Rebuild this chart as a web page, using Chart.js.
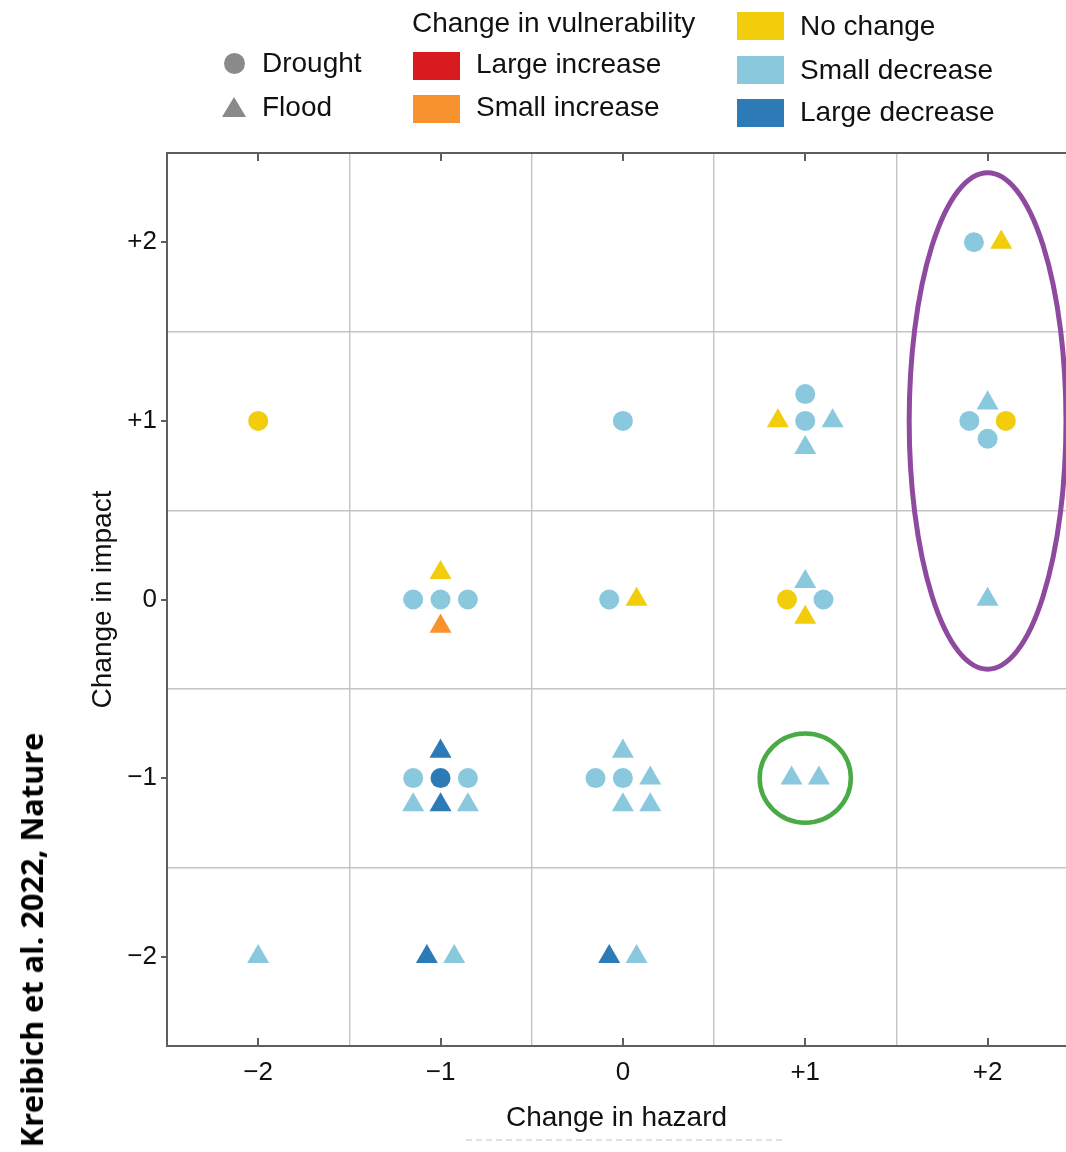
<!DOCTYPE html>
<html>
<head>
<meta charset="utf-8">
<title>Change in hazard vs change in impact</title>
<script src="https://cdn.jsdelivr.net/npm/chart.js@4.4.0/dist/chart.umd.min.js"></script>
<style>
  html, body { margin: 0; padding: 0; background: #fff; overflow: hidden; }
  body { width: 1066px; height: 1152px; position: relative; font-family: "Liberation Sans", Arial, sans-serif; color: #111; }
  #chart { position: absolute; left: 0; top: 0; }
  .lg-text { position: absolute; font-size: 28px; line-height: 32px; white-space: nowrap; }
  .swatch { position: absolute; width: 47px; height: 28px; }
  .mk-circle { position: absolute; width: 21px; height: 21px; border-radius: 50%; background: #8a8a8a; }
  .mk-tri { position: absolute; width: 24px; height: 20px; background: #8a8a8a; clip-path: polygon(50% 0, 100% 100%, 0 100%); }
  #credit { position: absolute; left: 31px; top: 940px; font-family: "Open Sans", sans-serif; font-weight: 700;
            font-size: 31px; line-height: 36px; white-space: nowrap; color: #000;
            transform: translate(-50%, -50%) rotate(-90deg); }
  #ghost { position: absolute; left: 466px; top: 1139px; width: 316px; border-top: 2px dashed #e2e2e2; }
</style>
</head>
<body>
<canvas id="chart" width="1066" height="1152"></canvas>
<div id="legend"></div>
<div id="credit">Kreibich et al. 2022, Nature</div>
<div id="ghost"></div>
<script>
// --- Data ---
const X_TICKS = [-2, -1, 0, 1, 2];
const X_TICK_LABELS = ["\u22122", "\u22121", "0", "+1", "+2"];
const Y_TICKS = [-2, -1, 0, 1, 2];
const Y_TICK_LABELS = ["\u22122", "\u22121", "0", "+1", "+2"];

const HAZARD_TYPES = ["Drought", "Flood"];
const VULN_CLASSES = ["Large increase", "Small increase", "No change", "Small decrease", "Large decrease"];
const VULN_COLORS = ["#d81b1f", "#f7922e", "#f1cd0c", "#8ac8de", "#2c7ab6"];

// each case: [change in hazard, change in impact, jitter x, jitter y]
const droughtNoChange = [[-2, 1, 0, 0], [1, 0, -0.1, 0], [2, 1, 0.1, 0]];
const droughtSmallDecrease = [
  [0, 1, 0, 0], [1, 1, 0, 0.15], [1, 1, 0, 0],
  [-1, 0, -0.15, 0], [-1, 0, 0, 0], [-1, 0, 0.15, 0],
  [0, 0, -0.075, 0], [1, 0, 0.1, 0],
  [2, 2, -0.075, 0], [2, 1, -0.1, 0], [2, 1, 0, -0.1],
  [-1, -1, -0.15, 0], [-1, -1, 0.15, 0], [0, -1, -0.15, 0], [0, -1, 0, 0],
];
const droughtLargeDecrease = [[-1, -1, 0, 0]];

const floodSmallIncrease = [[-1, 0, 0, -0.15]];
const floodNoChange = [[1, 1, -0.15, 0], [-1, 0, 0, 0.15], [0, 0, 0.075, 0], [1, 0, 0, -0.1], [2, 2, 0.075, 0]];
const floodSmallDecrease = [
  [1, 1, 0.15, 0], [1, 1, 0, -0.15], [1, 0, 0, 0.1], [2, 1, 0, 0.1], [2, 0, 0, 0],
  [-1, -1, -0.15, -0.15], [-1, -1, 0.15, -0.15],
  [0, -1, 0, 0.15], [0, -1, 0.15, 0], [0, -1, 0, -0.15], [0, -1, 0.15, -0.15],
  [1, -1, -0.075, 0], [1, -1, 0.075, 0],
  [-2, -2, 0, 0], [-1, -2, 0.075, 0], [0, -2, 0.075, 0],
];
const floodLargeDecrease = [[-1, -1, 0, 0.15], [-1, -1, 0, -0.15], [-1, -2, -0.075, 0], [0, -2, -0.075, 0]];

const GROUPS = [
  ["Drought", "No change", droughtNoChange],
  ["Drought", "Small decrease", droughtSmallDecrease],
  ["Drought", "Large decrease", droughtLargeDecrease],
  ["Flood", "Small increase", floodSmallIncrease],
  ["Flood", "No change", floodNoChange],
  ["Flood", "Small decrease", floodSmallDecrease],
  ["Flood", "Large decrease", floodLargeDecrease],
];

// highlighted regions (data units)
const HIGHLIGHT_CENTERS = [[2, 1], [1, -1]];
const HIGHLIGHT_RADII = [[0.43, 1.39], [0.25, 0.25]];

// --- Legend (HTML) ---
function addEl(cls, left, top, text, bg) {
  const el = document.createElement("div");
  el.className = cls;
  el.style.left = left + "px";
  el.style.top = top + "px";
  if (text) el.textContent = text;
  if (bg) el.style.background = bg;
  document.getElementById("legend").appendChild(el);
  return el;
}

addEl("mk-circle", 224, 53);
addEl("lg-text", 262, 47, HAZARD_TYPES[0]);
addEl("mk-tri", 222, 97);
addEl("lg-text", 262, 91, HAZARD_TYPES[1]);
addEl("lg-text", 412, 7, "Change in vulnerability");

const legendSlots = [[413, 52, 476, 48], [413, 95, 476, 91], [737, 12, 800, 10], [737, 56, 800, 54], [737, 99, 800, 96]];
VULN_CLASSES.forEach((name, i) => {
  const [sx, sy, tx, ty] = legendSlots[i];
  addEl("swatch", sx, sy, null, VULN_COLORS[i]);
  addEl("lg-text", tx, ty, name);
});

// --- Chart ---
const FONT = '"Liberation Sans", Arial, sans-serif';
Chart.defaults.font.family = FONT;

const datasets = GROUPS.map(([type, vuln, rows]) => {
  const color = VULN_COLORS[VULN_CLASSES.indexOf(vuln)];
  return {
    label: type + " / " + vuln,
    data: rows.map(([h, imp, jx, jy]) => ({ x: h + jx, y: imp + jy })),
    pointStyle: type === "Drought" ? "circle" : "triangle",
    pointRadius: type === "Drought" ? 10 : 12.7,
    backgroundColor: color,
    borderWidth: 0,
  };
});

const framePlugin = {
  id: "frame",
  afterDatasetsDraw(chart, args, opts) {
    const { ctx, chartArea: a, scales: { x, y } } = chart;

    ctx.save();
    ctx.beginPath();
    ctx.rect(a.left, a.top, a.right - a.left, a.bottom - a.top);
    ctx.clip();
    HIGHLIGHT_CENTERS.forEach(([cx, cy], i) => {
      const [rx, ry] = HIGHLIGHT_RADII[i];
      const px = x.getPixelForValue(cx);
      const py = y.getPixelForValue(cy);
      ctx.beginPath();
      ctx.ellipse(px, py,
        Math.abs(x.getPixelForValue(cx + rx) - px),
        Math.abs(y.getPixelForValue(cy + ry) - py), 0, 0, Math.PI * 2);
      ctx.lineWidth = opts.ringWidths[i];
      ctx.strokeStyle = opts.ringColors[i];
      ctx.stroke();
    });
    ctx.restore();

    ctx.save();
    ctx.strokeStyle = opts.frameColor;
    ctx.lineWidth = 2;
    ctx.beginPath();
    ctx.moveTo(a.left - 1, a.top);
    ctx.lineTo(a.right, a.top);
    x.ticks.forEach(t => {
      const px = Math.round(x.getPixelForValue(t.value));
      ctx.moveTo(px, a.bottom);
      ctx.lineTo(px, a.bottom - 8);
      ctx.moveTo(px, a.top);
      ctx.lineTo(px, a.top + 8);
    });
    y.ticks.forEach(t => {
      const py = Math.round(y.getPixelForValue(t.value));
      ctx.moveTo(a.left, py);
      ctx.lineTo(a.left - 6, py);
    });
    ctx.stroke();
    ctx.restore();
  },
};

const axisTitleFont = { size: 28, family: FONT };
const tickFont = { size: 26, family: FONT };

new Chart(document.getElementById("chart"), {
  type: "scatter",
  data: { datasets },
  options: {
    responsive: false,
    animation: false,
    layout: { autoPadding: false, padding: { top: 153, right: 0, bottom: 0, left: 0 } },
    plugins: {
      legend: { display: false },
      tooltip: { enabled: false },
      frame: {
        frameColor: "#5e5e5e",
        ringColors: ["#8e4a9e", "#4aaa45"],
        ringWidths: [5, 4.5],
      },
    },
    scales: {
      x: {
        type: "linear",
        min: -2.5,
        max: 2.43,
        afterBuildTicks: s => { s.ticks = X_TICKS.map(v => ({ value: v })); },
        afterFit: s => { s.height = 106; s.paddingLeft = 0; s.paddingRight = 0; },
        grid: { offset: true, color: "#c4c4c4", lineWidth: 1.4, drawTicks: false },
        border: { display: true, color: "#5e5e5e", width: 2 },
        ticks: {
          autoSkip: false, maxRotation: 0, padding: 11, color: "#111", font: tickFont,
          callback: (v, i) => X_TICK_LABELS[i],
        },
        title: { display: true, text: "Change in hazard", color: "#111", font: axisTitleFont, padding: { bottom: 17 } },
      },
      y: {
        type: "linear",
        min: -2.5,
        max: 2.5,
        afterBuildTicks: s => { s.ticks = Y_TICKS.map(v => ({ value: v })); },
        afterFit: s => { s.width = 167; s.paddingTop = 0; s.paddingBottom = 0; },
        grid: { offset: true, color: "#c4c4c4", lineWidth: 1.4, drawTicks: false },
        border: { display: true, color: "#5e5e5e", width: 2 },
        ticks: {
          autoSkip: false, padding: 10, color: "#111", font: tickFont,
          callback: (v, i) => Y_TICK_LABELS[i],
        },
        title: { display: true, text: "Change in impact", color: "#111", font: axisTitleFont, padding: { top: 86 } },
      },
    },
  },
  plugins: [framePlugin],
});

// --- Side credit, stretched to its printed length ---
function fitCredit() {
  const credit = document.getElementById("credit");
  const s = 415 / credit.offsetWidth;
  credit.style.transform = `translate(-50%, -50%) rotate(-90deg) scaleX(${s})`;
}
fitCredit();
if (document.fonts) document.fonts.ready.then(fitCredit);
</script>
</body>
</html>
